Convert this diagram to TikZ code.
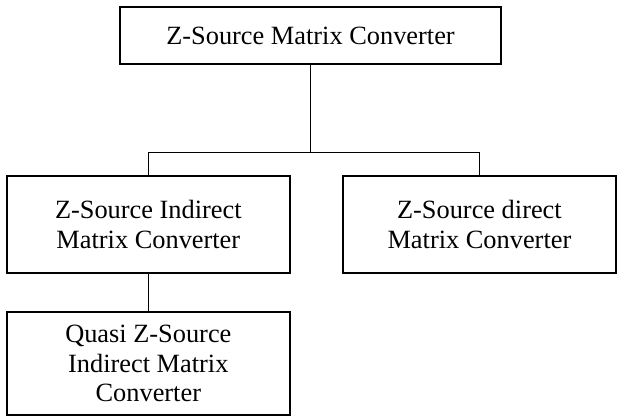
\documentclass[tikz,border=0pt]{standalone}
\usepackage{fontspec}
\setmainfont{Liberation Serif}
\usetikzlibrary{positioning}

\begin{document}
\begin{tikzpicture}[
    convnode/.style={rectangle, draw=black, line width=1.5pt, align=center, inner sep=0pt, font=\fontsize{22.5}{25.5}\selectfont},
    link/.style={line width=1.3pt},
]
\useasboundingbox (0,0) rectangle (18.6,-12.54);
\node[convnode, minimum width=11.43cm, minimum height=1.71cm](zsmc) at (9.315,-1.065){Z-Source Matrix Converter};
\node[convnode, minimum width=8.5cm, minimum height=2.91cm](zsimc) at (4.45,-6.726){Z-Source Indirect\\Matrix Converter};
\node[convnode, minimum width=8.2cm, minimum height=2.91cm](zsdmc)[right = 1.53cm of zsimc]{Z-Source direct\\Matrix Converter};
\node[convnode, minimum width=8.5cm, minimum height=3.1cm](qzsimc)[below = 1.12cm of zsimc]{Quasi Z-Source\\Indirect Matrix\\Converter};
% branch line between the two converter types
\coordinate (bus) at (0,-4.58);
\draw[link] (zsmc.south) -- (zsmc.south |- bus);
\draw[link] (zsimc.north) |- (zsdmc.north |- bus) -- (zsdmc.north);
\draw[link] (zsimc.south) -- (qzsimc.north);
\end{tikzpicture}
\end{document}
